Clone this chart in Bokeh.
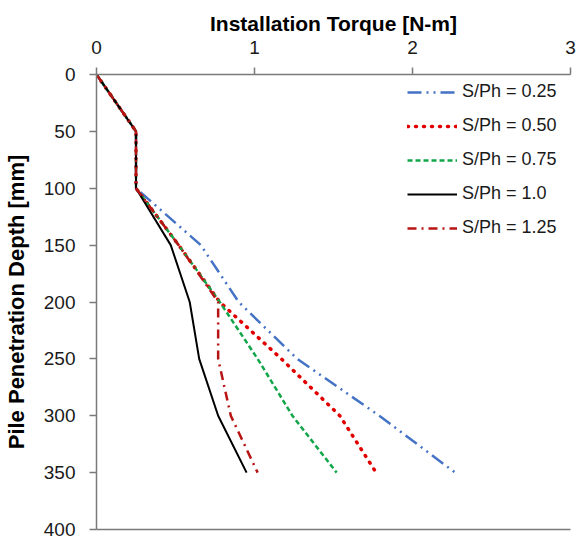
from bokeh.plotting import figure
from bokeh.models import Range1d, LinearAxis, FixedTicker, Legend, LegendItem
from bokeh.embed import file_html
from bokeh.resources import INLINE

depth = [0, 50, 100, 150, 200, 250, 300, 350]
t_025 = [0, 0.25, 0.25, 0.66, 0.90, 1.27, 1.79, 2.27]
t_050 = [0, 0.25, 0.25, 0.52, 0.78, 1.17, 1.54, 1.77]
t_075 = [0, 0.25, 0.25, 0.52, 0.78, 1.02, 1.24, 1.52]
t_100 = [0, 0.25, 0.25, 0.47, 0.59, 0.65, 0.77, 0.95]
t_125 = [0, 0.25, 0.25, 0.52, 0.77, 0.77, 0.85, 1.02]
labels = ["S/Ph = 0.25", "S/Ph = 0.50", "S/Ph = 0.75", "S/Ph = 1.0", "S/Ph = 1.25"]
x_ticks = [0, 1, 2, 3]
y_ticks = [0, 50, 100, 150, 200, 250, 300, 350, 400]

FONT = "Liberation Sans"
AXIS_COLOR = "#7a7a7a"
TEXT_COLOR = "#1a1a1a"

p = figure(width=585, height=541, x_range=Range1d(0, 3), y_range=Range1d(400, 0),
           x_axis_location="above", output_backend="svg", toolbar_location=None,
           min_border_left=96, min_border_right=15, min_border_top=74, min_border_bottom=12)
p.grid.visible = False
p.outline_line_color = None
p.background_fill_color = "white"
p.border_fill_color = "white"

top = p.above[0]
top.ticker = FixedTicker(ticks=x_ticks)
top.axis_label = "Installation Torque [N-m]"
left = p.left[0]
left.ticker = FixedTicker(ticks=y_ticks)
left.axis_label = "Pile Penetration Depth [mm]"
for ax in (top, left):
    ax.axis_line_color = AXIS_COLOR
    ax.axis_line_width = 1.5
    ax.major_tick_line_color = AXIS_COLOR
    ax.major_tick_line_width = 1.5
    ax.major_tick_out = 7
    ax.major_tick_in = 0
    ax.minor_tick_out = 0
    ax.minor_tick_in = 0
    ax.major_label_text_font = FONT
    ax.major_label_text_font_size = "19px"
    ax.major_label_text_color = TEXT_COLOR
    ax.axis_label_text_font = FONT
    ax.axis_label_text_font_style = "bold"
    ax.axis_label_text_color = "black"
top.axis_label_text_font_size = "21px"
left.axis_label_text_font_size = "22px"
top.major_label_standoff = 14
top.axis_label_standoff = 3
left.major_label_standoff = 14
left.axis_label_standoff = 12

bottom = LinearAxis(ticker=FixedTicker(ticks=[]), axis_line_color=AXIS_COLOR, axis_line_width=1.5,
                    major_tick_out=0, major_tick_in=0, minor_tick_out=0, minor_tick_in=0,
                    major_label_text_font_size="0px")
p.add_layout(bottom, "below")

r1 = p.line(t_025, depth, line_color="#4472C4", line_width=2.5, line_dash="14 5 2 5 2 5")
r2 = p.line(t_050, depth, line_color="#E00000", line_width=3.5, line_dash="1 7", line_cap="round")
r3 = p.line(t_075, depth, line_color="#12A54A", line_width=2.5, line_dash="5 3")
r4 = p.line(t_100, depth, line_color="black", line_width=2)
r5 = p.line(t_125, depth, line_color="#B81414", line_width=2.5, line_dash="9 5 2 5")

legend = Legend(items=[LegendItem(label=l, renderers=[r]) for l, r in zip(labels, [r1, r2, r3, r4, r5])],
                location=(311, 291))
legend.margin = 0
legend.padding = 8
legend.border_line_color = None
legend.background_fill_alpha = 0
legend.glyph_width = 50
legend.glyph_height = 20
legend.label_height = 20
legend.label_standoff = 5
legend.spacing = 13
legend.label_text_font = FONT
legend.label_text_font_size = "18px"
legend.label_text_color = TEXT_COLOR
p.add_layout(legend)

open("out.html", "w").write(file_html(p, INLINE))
